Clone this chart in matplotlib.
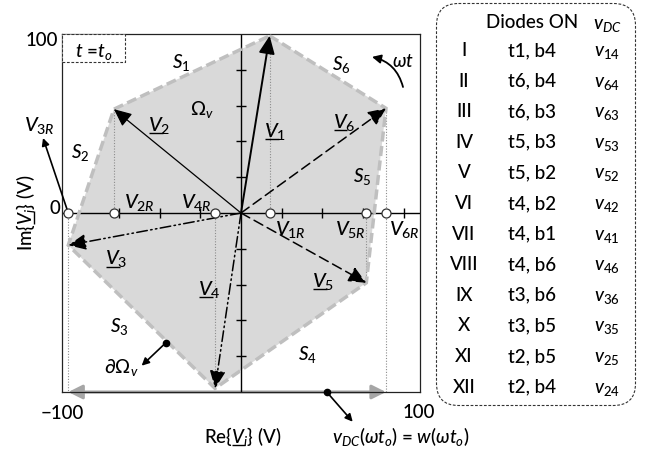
import numpy as np
import matplotlib
matplotlib.use('Agg')
import matplotlib.pyplot as plt
from matplotlib.patches import Polygon, Rectangle, FancyBboxPatch, FancyArrowPatch
from matplotlib.font_manager import FontProperties

FONT = 'Lato'
plt.rcParams.update({
    'font.family': [FONT, 'DejaVu Sans'],
    'font.weight': 'medium',
    'mathtext.fontset': 'custom',
    'mathtext.rm': FONT + ':medium',
    'mathtext.it': FONT + ':italic:medium',
    'mathtext.bf': FONT + ':bold',
    'mathtext.fallback': 'stixsans',
    'axes.linewidth': 0.9,
})

# ── DATA ──
vec_names = ['1', '2', '3', '4', '5', '6']
vec_re = np.array([16, -71, -96.5, -14.5, 70, 81])
vec_im = np.array([99, 58, -18, -98, -39, 58.5])
hull_order = [0, 5, 4, 3, 2, 1]          # V1 -> V6 -> V5 -> V4 -> V3 -> V2
x_ticks = [-68.2, -45.5, -22.7, 22.7, 45.5, 68.2, 91]
y_ticks = [-80, -60, -40, -20, 20, 40, 60, 80]

sector_names = ['1', '2', '3', '4', '5', '6']

tab_roman = ['I', 'II', 'III', 'IV', 'V', 'VI', 'VII', 'VIII', 'IX', 'X', 'XI', 'XII']
tab_diodes = ['t1, b4', 't6, b4', 't6, b3', 't5, b3', 't5, b2', 't4, b2',
              't4, b1', 't4, b6', 't3, b6', 't3, b5', 't2, b5', 't2, b4']
tab_vdc = ['14', '64', '63', '53', '52', '42', '41', '46', '36', '35', '25', '24']

# ── STYLE ──
FILL = '#d9d9d9'
EDGE = '#bfbfbf'
DOT = '#8c8c8c'
ARROW_GREY = '#a6a6a6'
FS_V = 14.5
FS_S = 13.5
FS_T = 13.5
FS_TAB = 13.5

dashdotdot = (0, (7, 2.2, 1, 2.2, 1, 2.2))
dashed = (0, (6.5, 3.3))
vec_ls = ['-', '-', dashdotdot, dashdotdot, dashed, dashed]
vec_lw = [1.4, 0.9, 1.1, 1.1, 1.1, 1.1]

fig = plt.figure(figsize=(6.65, 4.59), dpi=100)
ax = fig.add_axes([62 / 665, 67 / 459, 358 / 665, 358 / 459])
ax.set_xlim(-100, 100)
ax.set_ylim(-100, 100)
ax.set_xticks([])
ax.set_yticks([])
for sp in ax.spines.values():
    sp.set_color('#222222')

rend = fig.canvas.get_renderer()


def text_w(s, size):
    if not s:
        return 0.0
    fp = FontProperties(family=[FONT, 'DejaVu Sans'], size=size, weight='medium')
    return rend.get_text_width_height_descent(s, fp, ismath='$' in s)[0]


def ulabel(x, y, s, size, pre='', rot=0):
    # text centred on x with baseline y, the 'V' after `pre` underlined
    t = ax.text(x, y, s, fontsize=size, ha='center', va='baseline',
                rotation=rot, rotation_mode='anchor', clip_on=False, zorder=6)
    W = text_w(s, size)
    a = text_w(pre, size)
    b = text_w(pre + '$V$', size)
    px, py = ax.transData.transform((x, y))
    if rot == 0:
        pts = [(px - W / 2 + a + 1, py - 2.2), (px - W / 2 + b - 1, py - 2.2)]
    else:
        pts = [(px + 2.2, py - W / 2 + a + 1), (px + 2.2, py - W / 2 + b - 1)]
    d = ax.transData.inverted().transform(pts)
    ax.plot(d[:, 0], d[:, 1], color='k', lw=1.0, clip_on=False, zorder=6,
            solid_capstyle='butt')
    return t


# ── REGION Ω ──
hull = np.column_stack([vec_re[hull_order], vec_im[hull_order]])
ax.add_patch(Polygon(hull, closed=True, facecolor=FILL, edgecolor='none', zorder=1))
ax.add_patch(Polygon(hull, closed=True, facecolor='none', edgecolor=EDGE,
                     lw=2.5, linestyle=(0, (2.9, 1.3)), zorder=3))

# ── CROSS AXES ──
ax.axhline(0, color='k', lw=1.0, zorder=2.5)
ax.axvline(0, color='k', lw=1.0, zorder=2.5)
ax.plot(x_ticks, np.zeros(len(x_ticks)), ls='none', marker='|', ms=7,
        mew=1.0, color='k', zorder=2.5)
ax.plot(np.zeros(len(y_ticks)), y_ticks, ls='none', marker='_', ms=7,
        mew=1.0, color='k', zorder=2.5)

# ── PROJECTIONS ──
for re, im in zip(vec_re, vec_im):
    ax.plot([re, re], [0, im], color=DOT, lw=0.8, ls=(0, (1, 1.5)), zorder=2)
i_min = int(np.argmin(vec_re))
i_max = int(np.argmax(vec_re))
for i in (i_min, i_max):
    ax.plot([vec_re[i], vec_re[i]], [min(0, vec_im[i]), -100], color=DOT,
            lw=0.8, ls=(0, (1, 1.5)), zorder=2)

# ── VECTORS ──
for re, im, ls, lw in zip(vec_re, vec_im, vec_ls, vec_lw):
    ax.annotate('', xy=(re, im), xytext=(0, 0),
                arrowprops=dict(arrowstyle='-|>,head_length=0.6,head_width=0.27',
                                color='k', lw=lw, linestyle=ls,
                                shrinkA=0, shrinkB=0, mutation_scale=18),
                zorder=4)

ax.plot(vec_re, np.zeros(len(vec_re)), ls='none', marker='o', ms=6.5,
        mfc='white', mec='#333333', mew=0.9, zorder=5, clip_on=False)

# ── WIDTH ARROW ──
ax.add_patch(FancyArrowPatch((vec_re[i_min], -100), (vec_re[i_max], -100),
                             arrowstyle='<|-|>,head_length=0.6,head_width=0.3',
                             mutation_scale=14, color=ARROW_GREY, lw=2.2,
                             shrinkA=0, shrinkB=0, zorder=2, clip_on=False))

# ── POINTERS ──
ax.plot([47.9], [-100], marker='o', ms=4.5, color='k', clip_on=False, zorder=6)
ax.annotate('', xy=(62.4, -116.6), xytext=(47.9, -100), annotation_clip=False,
            arrowprops=dict(arrowstyle='-|>', color='k', lw=1.2,
                            shrinkA=0, shrinkB=0, mutation_scale=11))
ax.plot([-42], [-72.5], marker='o', ms=4.5, color='k', zorder=6)
ax.annotate('', xy=(-55.5, -85.3), xytext=(-42, -72.5), annotation_clip=False,
            arrowprops=dict(arrowstyle='-|>', color='k', lw=1.2,
                            shrinkA=0, shrinkB=0, mutation_scale=11))
ax.annotate('', xy=(-110.6, 41.9), xytext=(vec_re[i_min], 0), annotation_clip=False,
            arrowprops=dict(arrowstyle='-|>', color='k', lw=1.2,
                            shrinkA=0, shrinkB=0, mutation_scale=11))
ax.add_patch(FancyArrowPatch((90.5, 70.4), (73.2, 87.2),
                             connectionstyle='arc3,rad=0.3',
                             arrowstyle='-|>', mutation_scale=13, color='k',
                             lw=1.3, shrinkA=0, shrinkB=0, zorder=6))

# ── t = t_o BOX ──
ax.add_patch(Rectangle((-100, 84.2), 35.4, 15.8, facecolor='white',
                       edgecolor='#333333', lw=0.8, linestyle=(0, (2.5, 1.5)),
                       zorder=5))
ax.text(-82.3, 87.3, r'$t$ =$t_o$', fontsize=FS_S, ha='center', va='baseline', zorder=6)

# ── LABELS ──
v_lab_pos = [(19, 42.6), (-45.8, 45.8), (-69.8, -28.7),
             (-17.5, -45.8), (46, -41.2), (57.4, 47.7)]
for n, (x, y) in zip(vec_names, v_lab_pos):
    ulabel(x, y, r'$V_{%s}$' % n, FS_V)

r_lab_pos = {'1': (27.4, -12.3), '2': (-57, 2.6), '3': (-112.8, 45.8),
             '4': (-25.1, 2.6), '5': (60.9, -12.3), '6': (91.1, -12.3)}
for n in vec_names:
    x, y = r_lab_pos[n]
    ax.text(x, y, r'$V_{%sR}$' % n, fontsize=FS_V, ha='center', va='baseline',
            clip_on=False, zorder=6)

s_lab_pos = [(-33.5, 80.8), (-89.7, 30.6), (-68.2, -66.3),
             (36.9, -82.1), (67.6, 17.5), (56.3, 79.9)]
for n, (x, y) in zip(sector_names, s_lab_pos):
    ax.text(x, y, r'$S_{%s}$' % n, fontsize=FS_S, ha='center', va='baseline', zorder=6)

ax.text(-21.8, 54.7, r'$\Omega_v$', fontsize=FS_S, ha='center', va='baseline', zorder=6)
ax.text(-66.6, -89.6, r'$\partial\Omega_v$', fontsize=FS_S, ha='center',
        va='baseline', zorder=6)
ax.text(90.5, 81.7, r'$\omega t$', fontsize=FS_S, ha='center', va='baseline', zorder=6)

# ── AXIS TEXT ──
ax.text(-102.2, 93.3, '100', fontsize=FS_T, ha='right', va='baseline', clip_on=False)
ax.text(-101.1, -0.6, '0', fontsize=FS_T, ha='right', va='baseline', clip_on=False)
ax.text(-100, -115.3, '\u2212100', fontsize=FS_T, ha='center', va='baseline', clip_on=False)
ax.text(99.4, -114.7, '100', fontsize=FS_T, ha='center', va='baseline', clip_on=False)
ulabel(0.8, -128.3, r'Re{$V_i$} (V)', FS_T, pre='Re{')
ulabel(-117, 0, r'Im{$V_i$} (V)', FS_T, pre='Im{', rot=90)
ax.text(89.4, -128.3, r'$v_{DC}(\omega t_o)$ = $w(\omega t_o)$', fontsize=FS_T,
        ha='center', va='baseline', clip_on=False)

# ── TABLE ──
axt = fig.add_axes([436 / 665, 53 / 459, 200 / 665, 403 / 459])
axt.set_xlim(0, 200)
axt.set_ylim(403, 0)
axt.axis('off')
axt.add_patch(FancyBboxPatch((0.5, 0.5), 199, 402,
                             boxstyle='round,pad=0,rounding_size=22',
                             facecolor='none', edgecolor='#333333', lw=0.8,
                             linestyle=(0, (2.5, 1.5)), clip_on=False))
col_x = [28, 96, 171]
axt.text(col_x[1], 25.5, 'Diodes ON', fontsize=FS_TAB, ha='center', va='baseline')
axt.text(col_x[2], 26.5, r'$v_{DC}$', fontsize=FS_TAB, ha='center', va='baseline')
row0, row_h = 53, 30.6
for i, (r, d, v) in enumerate(zip(tab_roman, tab_diodes, tab_vdc)):
    y = row0 + i * row_h
    axt.text(col_x[0], y, r, fontsize=FS_TAB, ha='center', va='baseline')
    axt.text(col_x[1], y, d, fontsize=FS_TAB, ha='center', va='baseline')
    axt.text(col_x[2], y, r'$v_{%s}$' % v, fontsize=FS_TAB, ha='center', va='baseline')

fig.savefig('out.png', dpi=100)
